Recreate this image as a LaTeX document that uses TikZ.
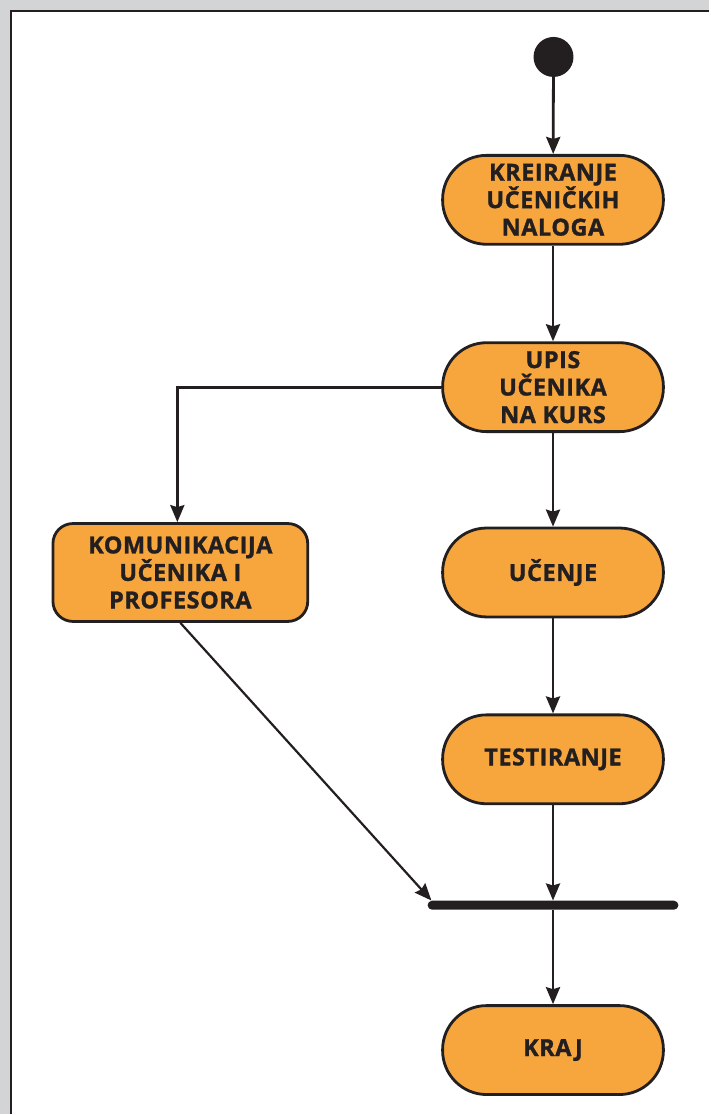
\documentclass[tikz,border=0pt]{standalone}
\usepackage{fontspec}
\setmainfont{Open Sans}
\newfontfamily\labelfont{Open Sans}[LetterSpace=2.2,FakeBold=1.2]
\usetikzlibrary{arrows.meta,calc}
\definecolor{ink}{RGB}{35,31,32}
\definecolor{act}{RGB}{247,166,62}
\definecolor{page}{RGB}{211,212,213}
\begin{document}
\begin{tikzpicture}[x=1pt,y=-1pt,
  activity/.style={draw=ink, line width=2.8pt, fill=act, align=center,
    font=\labelfont\fontsize{23.5}{27.5}\selectfont\bfseries, text=ink, inner sep=0pt,
    minimum width=221pt, minimum height=89pt, rounded corners=44pt},
  boxact/.style={activity, minimum width=255pt, minimum height=98pt, rounded corners=20pt},
  conn/.style={draw=ink, line width=2.8pt, -{Stealth[length=17pt,width=14pt,inset=2pt]}},
  thin conn/.style={conn, line width=2.2pt}]
  % page and frame
  \fill[page] (0,0) rectangle (710,1115);
  \fill[white] (10,10) rectangle (710,1115);
  \draw[ink, line width=2pt] (11,1115) -- (11,11) -- (710,11);
  \useasboundingbox (0,0) rectangle (710,1115);

  % start point
  \node[circle, fill=ink, minimum size=40pt, inner sep=0pt] (start) at (554,57) {};

  % activities
  \node[activity] (kre)  at (553.5,200)  {KREIRANJE\\UČENIČKIH\\NALOGA};
  \node[activity] (upis) at (553.5,387.5) {UPIS\\UČENIKA\\NA KURS};
  \node[activity] (uc)   at (553.5,573)  {UČENJE};
  \node[activity] (test) at (553.5,760)  {TESTIRANJE};
  \node[activity] (kraj) at (553.5,1051) {KRAJ};
  \node[boxact]   (kom)  at (180.5,573)  {KOMUNIKACIJA\\UČENIKA I\\PROFESORA};

  % join bar
  \node[fill=ink, minimum width=251pt, minimum height=9pt, inner sep=0pt,
        rounded corners=4.5pt] (bar) at (553.5,906) {};
  \coordinate (barin) at ($(bar.north west)+(4,0)$);

  % flows
  \draw[conn] (start) -- (kre);
  \draw[conn] (kre) -- (upis);
  \draw[conn] (upis) -- (uc);
  \draw[conn] (uc) -- (test);
  \draw[conn] (upis.west) -| ([xshift=-3pt]kom.north);
  \draw[thin conn] (kom.south) -- (barin);
  \draw[conn] (test) -- (bar.north -| test);
  \draw[conn] (bar.south -| kraj) -- (kraj);
\end{tikzpicture}
\end{document}
